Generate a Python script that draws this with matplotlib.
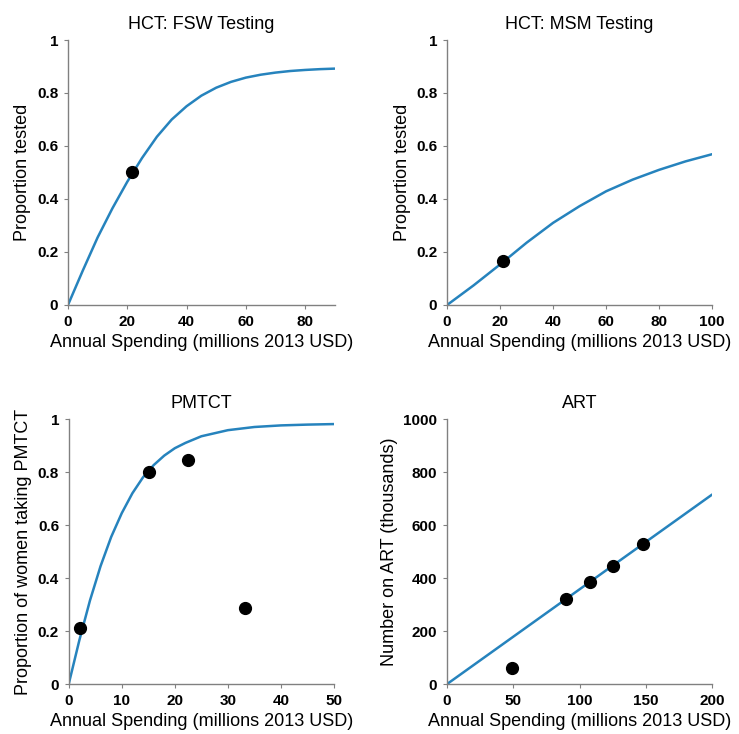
import matplotlib
matplotlib.use('Agg')
import matplotlib.pyplot as plt

plt.rcParams['font.family'] = ['Liberation Sans', 'DejaVu Sans']

# HCT: FSW testing
fsw_x = [0, 5, 10, 15, 20, 25, 30, 35, 40, 45, 50, 55, 60, 65, 70, 75, 80, 85, 90]
fsw_curve = [0, 0.13, 0.255, 0.365, 0.465, 0.555, 0.635, 0.70, 0.75, 0.79, 0.82, 0.842,
             0.858, 0.869, 0.877, 0.883, 0.887, 0.890, 0.892]
fsw_pts_x = [21.5]
fsw_pts_y = [0.50]

# HCT: MSM testing
msm_x = [0, 10, 20, 30, 40, 50, 60, 70, 80, 90, 100]
msm_curve = [0, 0.074, 0.153, 0.235, 0.31, 0.373, 0.429, 0.473, 0.51, 0.542, 0.569]
msm_pts_x = [21]
msm_pts_y = [0.165]

# PMTCT
pmtct_x = [0, 2, 4, 6, 8, 10, 12, 14, 16, 18, 20, 22, 25, 30, 35, 40, 45, 50]
pmtct_curve = [0, 0.165, 0.315, 0.445, 0.555, 0.645, 0.72, 0.78, 0.826, 0.862, 0.89, 0.91,
               0.935, 0.958, 0.97, 0.976, 0.979, 0.981]
pmtct_pts_x = [2.2, 15.2, 22.5, 33.3]
pmtct_pts_y = [0.21, 0.80, 0.845, 0.285]

# ART
art_x = [0, 200]
art_curve = [0, 715]
art_pts_x = [49, 90, 108, 125, 148]
art_pts_y = [60, 320, 385, 447, 530]

panels = [
    ('HCT: FSW Testing', 'Proportion tested', fsw_x, fsw_curve, fsw_pts_x, fsw_pts_y,
     (0, 90), [0, 20, 40, 60, 80], (0, 1), [0, 0.2, 0.4, 0.6, 0.8, 1], ['0', '0.2', '0.4', '0.6', '0.8', '1']),
    ('HCT: MSM Testing', 'Proportion tested', msm_x, msm_curve, msm_pts_x, msm_pts_y,
     (0, 100), [0, 20, 40, 60, 80, 100], (0, 1), [0, 0.2, 0.4, 0.6, 0.8, 1], ['0', '0.2', '0.4', '0.6', '0.8', '1']),
    ('PMTCT', 'Proportion of women taking PMTCT', pmtct_x, pmtct_curve, pmtct_pts_x, pmtct_pts_y,
     (0, 50), [0, 10, 20, 30, 40, 50], (0, 1), [0, 0.2, 0.4, 0.6, 0.8, 1], ['0', '0.2', '0.4', '0.6', '0.8', '1']),
    ('ART', 'Number on ART (thousands)', art_x, art_curve, art_pts_x, art_pts_y,
     (0, 200), [0, 50, 100, 150, 200], (0, 1000), [0, 200, 400, 600, 800, 1000], ['0', '200', '400', '600', '800', '1000']),
]

positions = [
    [0.092, 0.5845, 0.361, 0.361],
    [0.605, 0.5845, 0.3586, 0.361],
    [0.093, 0.0681, 0.359, 0.361],
    [0.605, 0.0681, 0.3586, 0.361],
]

fig = plt.figure(figsize=(7.39, 7.34), dpi=100)

for pos, (title, ylabel, cx, cy, px, py, xlim, xticks, ylim, yticks, ylabs) in zip(positions, panels):
    ax = fig.add_axes(pos)
    ax.plot(cx, cy, color='#2683bd', linewidth=1.8, zorder=2,
            solid_joinstyle='round', solid_capstyle='round')
    ax.plot(px, py, 'o', color='black', markersize=8.5, zorder=3)
    ax.set_xlim(*xlim)
    ax.set_ylim(*ylim)
    ax.set_xticks(xticks)
    ax.set_xticklabels([str(t) for t in xticks], fontweight='bold', fontsize=11)
    ax.set_yticks(yticks)
    ax.set_yticklabels(ylabs, fontweight='bold', fontsize=11)
    ax.set_title(title, fontsize=13, pad=8)
    ax.set_xlabel('Annual Spending (millions 2013 USD)', fontsize=13, labelpad=4)
    ax.set_ylabel(ylabel, fontsize=13, labelpad=4)
    for s in ['top', 'right']:
        ax.spines[s].set_visible(False)
    for s in ['left', 'bottom']:
        ax.spines[s].set_color('#808080')
        ax.spines[s].set_linewidth(1)
    ax.tick_params(direction='out', length=3, color='#808080', pad=4)

fig.savefig('out.png', dpi=100)
